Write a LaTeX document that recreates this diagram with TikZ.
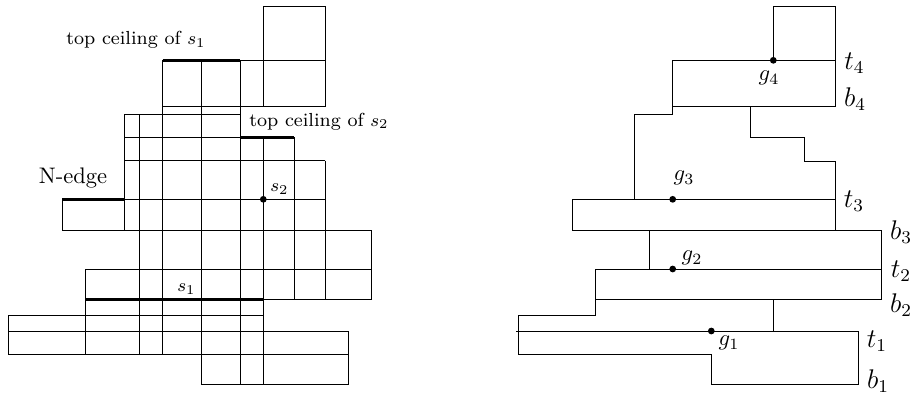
\documentclass[tikz,border=0pt]{standalone}
\begin{document}
\begin{tikzpicture}[x=0.4444pt,y=-0.4444pt,
  thin line/.style={line width=0.4pt},
  thick edge/.style={line width=1.5pt},
  dotmark/.style={fill=black},
  ceil label/.style={inner sep=0pt,font=\fontsize{8.4}{10}\selectfont},
  s label/.style={inner sep=0pt,font=\fontsize{8}{10}\selectfont},
  g label/.style={inner sep=0pt,font=\fontsize{10}{12}\selectfont},
  tb label/.style={inner sep=0pt,font=\fontsize{12}{14}\selectfont}]
\useasboundingbox (0,0) rectangle (915,398);

% ---------- left picture ----------
\begin{scope}[thin line]
% horizontal
\draw (263.3,6)--(325.3,6);
\draw (240,60.3)--(325.3,60.3);
\draw (162.7,106.7)--(325.3,106.7);
\draw (124.3,114.3)--(240,114.3);
\draw (124.3,137.3)--(240,137.3);
\draw (124.3,160.7)--(325.3,160.7);
\draw (124.3,199.3)--(325.3,199.3);
\draw (62,230.3)--(371.7,230.3);
\draw (85.3,269)--(371.7,269);
\draw (263.3,299.7)--(371.7,299.7);
\draw (8,315.3)--(263.3,315.3);
\draw (8,331)--(348.3,331);
\draw (8,354)--(348.3,354);
\draw (201.3,384.7)--(348.3,384.7);
% vertical
\draw (8,315.3)--(8,354);
\draw (62,199.3)--(62,230.3);
\draw (85.3,269)--(85.3,354);
\draw (124.3,114.3)--(124.3,230.3);
\draw (139.3,114.3)--(139.3,354);
\draw (162.7,60.3)--(162.7,354);
\draw (201.3,60.3)--(201.3,384.7);
\draw (240,60.3)--(240,384.7);
\draw (263.3,6)--(263.3,106.7);
\draw (263.3,137.3)--(263.3,384.7);
\draw (294.3,137.3)--(294.3,299.7);
\draw (325.3,6)--(325.3,106.7);
\draw (325.3,160.7)--(325.3,299.7);
\draw (348.3,331)--(348.3,384.7);
\draw (371.7,230.3)--(371.7,299.7);
\end{scope}
% thick edges
\draw[thick edge] (162.7,60.3)--(240,60.3);
\draw[thick edge] (240,137.3)--(294.3,137.3);
\draw[thick edge] (62,199.3)--(124.3,199.3);
\draw[thick edge] (85.3,299.7)--(263.3,299.7);
\coordinate (s2pt) at (263.3,199.3);
\fill[dotmark] (s2pt) circle (1.5pt);

\node[ceil label] (ceil1) at (136,40) {top ceiling of $s_1$};
\node[ceil label] (ceil2) at (319,121.5) {top ceiling of $s_2$};
\node[inner sep=0pt,font=\fontsize{10}{12}\selectfont] (nedge) at (73,178) {N-edge};
\node[s label] (s2lab) at (279.5,189) {$s_2$};
\node[s label] (s1lab) at (186.5,289) {$s_1$};

% ---------- right picture ----------
\begin{scope}[thin line]
\draw (773.3,60.3)--(773.3,6)--(835,6)--(835,106.7);
\draw (672.7,60.3)--(835,60.3);
\draw (672.7,60.3)--(672.7,114.3)--(634.3,114.3)--(634.3,199.3);
\draw (672.7,106.7)--(835,106.7);
\draw (750,106.7)--(750,137.3)--(804,137.3)--(804,161)--(835,161)--(835,230.3);
\draw (572.3,199.3)--(835,199.3);
\draw (572.3,199.3)--(572.3,230.3)--(881.3,230.3)--(881.3,299.7);
\draw (649.7,230.3)--(649.7,269);
\draw (595.7,269)--(881.3,269);
\draw (595.7,269)--(595.7,315.3)--(518.3,315.3)--(518.3,354)--(711.3,354)--(711.3,384.7)--(858.3,384.7)--(858.3,331);
\draw (595.7,299.7)--(881.3,299.7);
\draw (773.3,299.7)--(773.3,331);
\draw (516,331)--(858.3,331);
\end{scope}
\coordinate (g4pt) at (773.3,60.3);
\coordinate (g3pt) at (672.7,199.3);
\coordinate (g2pt) at (672.7,269);
\coordinate (g1pt) at (711.3,331);
\foreach \p in {g4pt,g3pt,g2pt,g1pt} \fill[dotmark] (\p) circle (1.5pt);

\node[g label] (g4lab) at (769,78) {$g_4$};
\node[g label] (g3lab) at (684,178) {$g_3$};
\node[g label] (g2lab) at (692,258) {$g_2$};
\node[g label] (g1lab) at (729,343) {$g_1$};

\node[tb label] (t4lab) at (854.5,63) {$t_4$};
\node[tb label] (b4lab) at (855,99) {$b_4$};
\node[tb label] (t3lab) at (854,201) {$t_3$};
\node[tb label] (b3lab) at (901,232) {$b_3$};
\node[tb label] (t2lab) at (901,271) {$t_2$};
\node[tb label] (b2lab) at (901,305) {$b_2$};
\node[tb label] (t1lab) at (877,341) {$t_1$};
\node[tb label] (b1lab) at (878,381) {$b_1$};
\end{tikzpicture}
\end{document}
